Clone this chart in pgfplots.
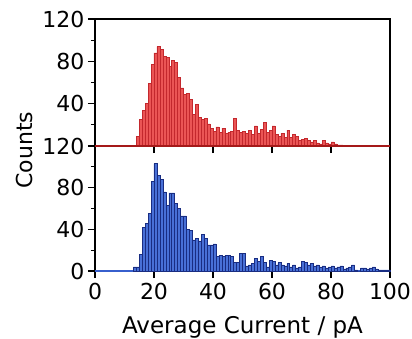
\documentclass[border=0pt]{standalone}
\usepackage{fontspec}
\setmainfont{DejaVu Sans}
\usepackage{pgfplots}
\pgfplotsset{compat=1.18}
\usepackage{pgfplotstable}
\definecolor{redfill}{RGB}{235,85,85}
\definecolor{rededge}{RGB}{195,40,45}
\definecolor{redbase}{RGB}{165,25,25}
\definecolor{bluefill}{RGB}{72,112,215}
\definecolor{blueedge}{RGB}{25,45,130}
\definecolor{bluebase}{RGB}{55,95,205}

\pgfplotstableread{
x y
14 9
15 25
16 34
17 40
18 59
19 77
20 88
21 94
22 91
23 85
24 84
25 75
26 81
27 79
28 65
29 55
30 49
31 50
32 44
33 30
34 39
35 27
36 25
37 26
38 21
39 17
40 14
41 18
42 13
43 17
44 12
45 13
46 14
47 26
48 15
49 13
50 14
51 12
52 15
53 11
54 19
55 12
56 16
57 22
58 13
59 15
60 19
61 11
62 9
63 12
64 8
65 15
66 8
67 11
68 9
69 5
70 6
71 7
72 5
73 4
74 5
75 3
76 2
77 5
78 3
79 2
80 4
81 2
82 1
83 1
84 0
}\redtab

\pgfplotstableread{
x y
13 4
14 4
15 16
16 42
17 46
18 55
19 86
20 103
21 92
22 88
23 76
24 63
25 75
26 75
27 65
28 60
29 53
30 53
31 40
32 39
33 30
34 31
35 29
36 35
37 31
38 25
39 25
40 26
41 14
42 15
43 14
44 15
45 15
46 14
47 8
48 8
49 17
50 17
51 5
52 6
53 7
54 12
55 9
56 14
57 8
58 4
59 10
60 9
61 6
62 8
63 6
64 5
65 7
66 4
67 6
68 3
69 4
70 9
71 8
72 6
73 7
74 5
75 6
76 4
77 5
78 3
79 4
80 5
81 3
82 4
83 5
84 2
85 3
86 4
87 6
88 1
89 0
90 3
91 3
92 2
93 3
94 4
95 2
96 1
97 1
98 1
99 1
100 0
}\bluetab

\pgfplotsset{
  panel/.style={
    scale only axis, width=295pt,
    xmin=0, xmax=100, ymin=0, ymax=120,
    tick align=outside, xtick pos=bottom, ytick pos=left,
    axis line style={line width=1.6pt},
    major tick length=7pt, minor tick length=4pt,
    every tick/.style={black, line width=1.3pt},
    tick label style={font=\fontsize{22}{24}\selectfont},
    /pgf/number format/assume math mode=true,
    minor ytick={20,60,100},
    clip=false,
  }
}

\begin{document}
\begin{tikzpicture}
\useasboundingbox (-95pt,-67pt) rectangle (317pt,271pt);
\begin{axis}[panel, at={(0pt,0pt)}, anchor=south west, height=125pt,
  xtick={0,20,40,60,80,100}, ytick={0,40,80,120},
  xticklabel style={yshift=-2pt}]
\addplot[bluebase, line width=1.4pt] coordinates {(0,0) (100,0)};
\addplot[ybar interval, fill=bluefill, draw=blueedge, line width=0.5pt] table[x=x,y=y] {\bluetab};
\end{axis}
\begin{axis}[panel, at={(0pt,125pt)}, anchor=south west, height=127pt,
  xtick={0,20,40,60,80,100}, xticklabels={}, ytick={40,80,120}]
\addplot[ybar interval, fill=redfill, draw=rededge, line width=0.5pt] table[x=x,y=y] {\redtab};
\addplot[redbase, line width=1.8pt] coordinates {(0,0) (100,0)};
\end{axis}
\node[rotate=90, font=\fontsize{22}{24}\selectfont] at (-71pt,121pt) {Counts};
\node[anchor=base, font=\fontsize{23}{24}\selectfont] at (147.5pt,-62pt) {Average Current / pA};
\end{tikzpicture}
\end{document}
